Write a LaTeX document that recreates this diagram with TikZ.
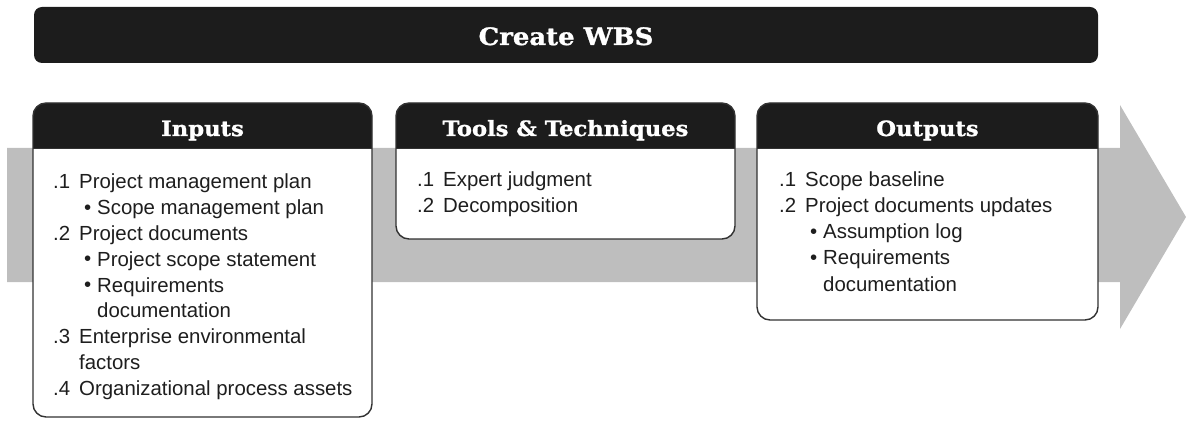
\documentclass[tikz,border=0pt]{standalone}
\usepackage{fontspec}
\setmainfont{Liberation Sans}
\newfontfamily\slab[FakeStretch=1.08,FakeBold=1.2]{DejaVu Serif}
\definecolor{bandgray}{RGB}{190,190,190}
\definecolor{hdrblack}{RGB}{28,28,28}
\definecolor{txtdark}{RGB}{30,30,30}
\definecolor{edgegray}{RGB}{50,50,50}
\tikzset{
  titletext/.style={text=white,font=\slab\bfseries\fontsize{24}{28}\selectfont,inner sep=0pt,anchor=base},
  hdrtext/.style={text=white,font=\slab\bfseries\fontsize{21}{25}\selectfont,inner sep=0pt,anchor=base},
  line/.style={text=txtdark,font=\fontsize{20.4}{25}\selectfont,inner sep=0pt,anchor=base west},
  boxedge/.style={draw=edgegray,line width=1.4pt,rounded corners=13pt},
}
\newcommand{\nm}[1]{\makebox[26pt][l]{#1}}
\newcommand{\bl}{\makebox[13pt][l]{\raisebox{0.5pt}{•}}}
\begin{document}
\begin{tikzpicture}[x=1pt,y=-1pt]
\useasboundingbox (0,0) rectangle (1186,422);
% background arrow
\fill[bandgray] (7,148) -- (1120,148) -- (1120,105) -- (1186,217) -- (1120,329) -- (1120,282) -- (7,282) -- cycle;
% title bar
\fill[hdrblack,rounded corners=8pt] (34,7) rectangle (1098,63);
\node[titletext] (title) at (566,45) {Create WBS};
% boxes
\foreach \xa/\xb/\yb in {33/372/417, 396/735/239, 757/1098/320}{
  \fill[white,rounded corners=13pt] (\xa,103) rectangle (\xb,\yb);
  \begin{scope}
    \clip (\xa,90) rectangle (\xb,148.5);
    \fill[hdrblack,rounded corners=13pt] (\xa,103) rectangle (\xb,\yb);
  \end{scope}
  \draw[edgegray,line width=1.2pt] (\xa,148.5) -- (\xb,148.5);
  \draw[boxedge] (\xa,103) rectangle (\xb,\yb);
}
\node[hdrtext] (hin) at (202.5,136) {Inputs};
\node[hdrtext] (htt) at (565.5,136) {Tools \& Techniques};
\node[hdrtext] (hout) at (927.5,136) {Outputs};
% inputs
\node[line] (in1) at (53,189) {\nm{.1}Project management plan};
\node[line] (in2) at (84,214.75) {\bl Scope management plan};
\node[line] (in3) at (53,240.5) {\nm{.2}Project documents};
\node[line] (in4) at (84,266.25) {\bl Project scope statement};
\node[line] (in5) at (84,292) {\bl Requirements};
\node[line] (in6) at (97,317.75) {documentation};
\node[line] (in7) at (53,343.5) {\nm{.3}Enterprise environmental};
\node[line] (in8) at (79,369.25) {factors};
\node[line] (in9) at (53,395) {\nm{.4}Organizational process assets};
% tools
\node[line] (tt1) at (417,187) {\nm{.1}Expert judgment};
\node[line] (tt2) at (417,213) {\nm{.2}Decomposition};
% outputs
\node[line] (out1) at (779,187) {\nm{.1}Scope baseline};
\node[line] (out2) at (779,213) {\nm{.2}Project documents updates};
\node[line] (out3) at (810,239) {\bl Assumption log};
\node[line] (out4) at (810,265) {\bl Requirements};
\node[line] (out5) at (823,291) {documentation};
\end{tikzpicture}
\end{document}
